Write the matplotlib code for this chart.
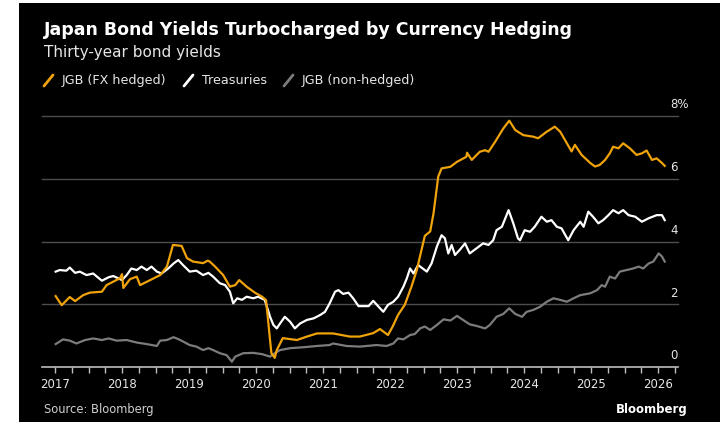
import matplotlib
matplotlib.use("Agg")
import matplotlib.pyplot as plt
from matplotlib.patches import Rectangle
from matplotlib.lines import Line2D
from matplotlib.ticker import MultipleLocator

# ---- data (decimal year, % yield) ----
hedged_t = [2017.01, 2017.10, 2017.22, 2017.30, 2017.42, 2017.52, 2017.70, 2017.77, 2017.87, 2017.97,
            2018.00, 2018.02, 2018.12, 2018.22, 2018.27, 2018.42, 2018.57, 2018.67, 2018.74, 2018.76,
            2018.89, 2018.97, 2019.06, 2019.21, 2019.28, 2019.31, 2019.39, 2019.51, 2019.61, 2019.69,
            2019.75, 2019.86, 2019.99, 2020.09, 2020.15, 2020.18, 2020.21, 2020.23, 2020.28, 2020.31,
            2020.40, 2020.61, 2020.76, 2020.91, 2021.15, 2021.40, 2021.55, 2021.75, 2021.85, 2021.97,
            2022.04, 2022.12, 2022.22, 2022.32, 2022.40, 2022.47, 2022.52, 2022.60, 2022.65, 2022.72,
            2022.77, 2022.90, 2023.00, 2023.14, 2023.15, 2023.22, 2023.34, 2023.42, 2023.47, 2023.57,
            2023.69, 2023.78, 2023.87, 2023.99, 2024.14, 2024.21, 2024.34, 2024.46, 2024.54, 2024.64,
            2024.71, 2024.76, 2024.86, 2024.99, 2025.06, 2025.13, 2025.21, 2025.28, 2025.33, 2025.41,
            2025.48, 2025.58, 2025.68, 2025.76, 2025.83, 2025.91, 2025.98, 2026.06, 2026.10]
hedged_y = [2.26, 1.97, 2.23, 2.10, 2.29, 2.37, 2.40, 2.61, 2.72, 2.83,
            2.96, 2.52, 2.80, 2.88, 2.61, 2.77, 2.93, 3.20, 3.73, 3.89,
            3.86, 3.47, 3.36, 3.31, 3.39, 3.36, 3.20, 2.93, 2.56, 2.61,
            2.77, 2.56, 2.36, 2.24, 2.13, 1.50, 0.85, 0.44, 0.29, 0.54,
            0.92, 0.86, 0.97, 1.07, 1.07, 0.97, 0.97, 1.08, 1.21, 1.02,
            1.29, 1.66, 1.98, 2.56, 3.09, 3.73, 4.18, 4.32, 4.90, 6.07,
            6.33, 6.38, 6.54, 6.70, 6.83, 6.60, 6.86, 6.91, 6.86, 7.18,
            7.60, 7.85, 7.55, 7.39, 7.34, 7.29, 7.50, 7.66, 7.50, 7.13,
            6.87, 7.08, 6.76, 6.50, 6.39, 6.44, 6.60, 6.81, 7.02, 6.97,
            7.13, 6.97, 6.76, 6.81, 6.90, 6.60, 6.65, 6.50, 6.41]

ust_t = [2017.01, 2017.07, 2017.17, 2017.22, 2017.30, 2017.37, 2017.47, 2017.57, 2017.70, 2017.80,
         2017.87, 2018.00, 2018.07, 2018.14, 2018.22, 2018.29, 2018.37, 2018.44, 2018.52, 2018.59,
         2018.69, 2018.77, 2018.84, 2018.91, 2019.01, 2019.11, 2019.21, 2019.29, 2019.36, 2019.46,
         2019.54, 2019.61, 2019.66, 2019.72, 2019.79, 2019.86, 2019.96, 2020.03, 2020.13, 2020.21,
         2020.26, 2020.31, 2020.36, 2020.43, 2020.51, 2020.58, 2020.66, 2020.76, 2020.86, 2020.96,
         2021.03, 2021.10, 2021.18, 2021.23, 2021.30, 2021.38, 2021.45, 2021.53, 2021.68, 2021.75,
         2021.83, 2021.90, 2021.97, 2022.05, 2022.12, 2022.20, 2022.25, 2022.30, 2022.35, 2022.42,
         2022.55, 2022.62, 2022.70, 2022.77, 2022.82, 2022.87, 2022.92, 2022.97, 2023.04, 2023.12,
         2023.19, 2023.29, 2023.39, 2023.47, 2023.54, 2023.59, 2023.67, 2023.77, 2023.84, 2023.91,
         2023.94, 2024.01, 2024.09, 2024.16, 2024.26, 2024.34, 2024.41, 2024.49, 2024.56, 2024.66,
         2024.74, 2024.84, 2024.89, 2024.96, 2025.03, 2025.11, 2025.18, 2025.26, 2025.33, 2025.41,
         2025.48, 2025.56, 2025.66, 2025.76, 2025.86, 2025.98, 2026.06, 2026.10]
ust_y = [3.04, 3.09, 3.07, 3.17, 3.00, 3.04, 2.93, 2.98, 2.75, 2.86,
         2.90, 2.77, 2.93, 3.14, 3.09, 3.20, 3.09, 3.20, 3.04, 2.98,
         3.14, 3.30, 3.41, 3.25, 3.04, 3.07, 2.93, 3.00, 2.88, 2.67,
         2.61, 2.40, 2.03, 2.19, 2.14, 2.24, 2.19, 2.24, 2.14, 1.60,
         1.34, 1.23, 1.39, 1.60, 1.44, 1.23, 1.39, 1.50, 1.55, 1.66,
         1.76, 2.03, 2.40, 2.45, 2.33, 2.37, 2.19, 1.94, 1.94, 2.11,
         1.92, 1.76, 1.98, 2.08, 2.24, 2.56, 2.82, 3.14, 2.98, 3.25,
         3.04, 3.30, 3.84, 4.20, 4.10, 3.62, 3.89, 3.57, 3.73, 3.94,
         3.62, 3.78, 3.94, 3.89, 4.04, 4.36, 4.47, 5.00, 4.58, 4.10,
         4.04, 4.36, 4.31, 4.47, 4.79, 4.63, 4.68, 4.47, 4.42, 4.04,
         4.36, 4.63, 4.47, 4.95, 4.79, 4.58, 4.68, 4.84, 5.00, 4.90,
         5.00, 4.84, 4.79, 4.63, 4.74, 4.84, 4.84, 4.68]

jgb_t = [2017.01, 2017.12, 2017.22, 2017.32, 2017.45, 2017.57, 2017.70, 2017.80, 2017.92, 2018.07,
         2018.22, 2018.37, 2018.52, 2018.57, 2018.67, 2018.77, 2018.87, 2019.01, 2019.11, 2019.21,
         2019.29, 2019.36, 2019.46, 2019.56, 2019.64, 2019.69, 2019.81, 2019.96, 2020.09, 2020.21,
         2020.28, 2020.36, 2020.51, 2020.71, 2020.91, 2021.10, 2021.15, 2021.35, 2021.55, 2021.80,
         2021.95, 2022.05, 2022.12, 2022.20, 2022.30, 2022.37, 2022.45, 2022.52, 2022.60, 2022.70,
         2022.80, 2022.90, 2023.00, 2023.09, 2023.19, 2023.29, 2023.42, 2023.49, 2023.59, 2023.69,
         2023.78, 2023.87, 2023.97, 2024.04, 2024.14, 2024.24, 2024.34, 2024.44, 2024.54, 2024.64,
         2024.74, 2024.84, 2024.99, 2025.09, 2025.16, 2025.21, 2025.28, 2025.36, 2025.43, 2025.53,
         2025.63, 2025.71, 2025.78, 2025.86, 2025.93, 2026.01, 2026.06, 2026.10]
jgb_y = [0.73, 0.88, 0.84, 0.75, 0.86, 0.91, 0.86, 0.91, 0.84, 0.86,
         0.78, 0.73, 0.67, 0.84, 0.86, 0.95, 0.86, 0.70, 0.65, 0.54,
         0.60, 0.54, 0.44, 0.38, 0.17, 0.33, 0.44, 0.45, 0.41, 0.33,
         0.44, 0.54, 0.60, 0.63, 0.67, 0.70, 0.75, 0.67, 0.65, 0.70,
         0.67, 0.75, 0.91, 0.88, 1.02, 1.05, 1.23, 1.29, 1.18, 1.34,
         1.52, 1.48, 1.63, 1.50, 1.36, 1.31, 1.23, 1.34, 1.60, 1.69,
         1.87, 1.69, 1.60, 1.76, 1.82, 1.92, 2.08, 2.19, 2.14, 2.08,
         2.19, 2.29, 2.35, 2.45, 2.61, 2.56, 2.88, 2.82, 3.04, 3.09,
         3.14, 3.20, 3.14, 3.30, 3.36, 3.62, 3.52, 3.36]

years = list(range(2017, 2027))
y_gridlines = [2, 4, 6, 8]
y_labels = ["2", "4", "6", "8%"]

ORANGE = "#f0a30a"
WHITE = "#ffffff"
GREY = "#7c7c7c"
TEXT = "#e6e6e6"

W, H = 722, 425
fig = plt.figure(figsize=(W / 100, H / 100), dpi=100, facecolor="white")

# black card (left strip of the screenshot stays white)
fig.patches.append(Rectangle((19 / W, 3 / H), (720 - 19) / W, (422 - 3) / H,
                             transform=fig.transFigure, facecolor="black",
                             edgecolor="none", zorder=-5))

ax = fig.add_axes([42 / W, 1 - 367 / H, 636 / W, (367 - 116) / H])
ax.set_zorder(2)
ax.set_facecolor("black")
ax.set_xlim(2017 - 13 / 67, 2017 + 623 / 67)
ax.set_ylim(0, 8)

for g in y_gridlines:
    ax.axhline(g, color="#4d4d4d", lw=1.0, zorder=1, clip_on=False)
for g, lab in zip([0] + y_gridlines, ["0"] + y_labels):
    ax.annotate(lab, xy=(0.988, g), xycoords=("axes fraction", "data"),
                xytext=(0, 8), textcoords="offset points",
                ha="left", va="center", color=TEXT, fontsize=8.5,
                annotation_clip=False)

ax.plot(jgb_t, jgb_y, color=GREY, lw=1.6, zorder=3, solid_joinstyle="round")
ax.plot(ust_t, ust_y, color=WHITE, lw=1.6, zorder=4, solid_joinstyle="round")
ax.plot(hedged_t, hedged_y, color=ORANGE, lw=1.6, zorder=5, solid_joinstyle="round")

for s in ["top", "left", "right"]:
    ax.spines[s].set_visible(False)
ax.spines["bottom"].set_color("#bdbdbd")
ax.spines["bottom"].set_linewidth(1.2)
ax.set_yticks([])
ax.set_xticks(years)
ax.set_xticklabels([str(y) for y in years])
ax.xaxis.set_minor_locator(MultipleLocator(0.25))
ax.tick_params(axis="x", which="both", direction="out", length=4, width=1,
               color="#bdbdbd", labelcolor=TEXT, labelsize=8.5, pad=4)

# titles
fig.text(44 / W, 1 - 30 / H, "Japan Bond Yields Turbocharged by Currency Hedging",
         ha="left", va="center", color="white", fontsize=12.5, fontweight="bold")
fig.text(44 / W, 1 - 52 / H, "Thirty-year bond yields",
         ha="left", va="center", color=TEXT, fontsize=11)

# legend with slash markers
legend_items = [("JGB (FX hedged)", ORANGE, 44, 62),
                ("Treasuries", WHITE, 184, 202),
                ("JGB (non-hedged)", GREY, 284, 302)]
for label, col, sx, tx in legend_items:
    fig.add_artist(Line2D([sx / W, (sx + 9) / W], [1 - 86 / H, 1 - 75 / H],
                          transform=fig.transFigure, color=col, lw=2,
                          solid_capstyle="round"))
    fig.text(tx / W, 1 - 80.5 / H, label, ha="left", va="center",
             color=TEXT, fontsize=9.2)

fig.text(44 / W, 1 - 410 / H, "Source: Bloomberg", ha="left", va="center",
         color="#cfcfcf", fontsize=8.3)
fig.text(688 / W, 1 - 410 / H, "Bloomberg", ha="right", va="center",
         color="white", fontsize=8.5, fontweight="bold")

fig.savefig("out.png", dpi=100, facecolor=fig.get_facecolor())
